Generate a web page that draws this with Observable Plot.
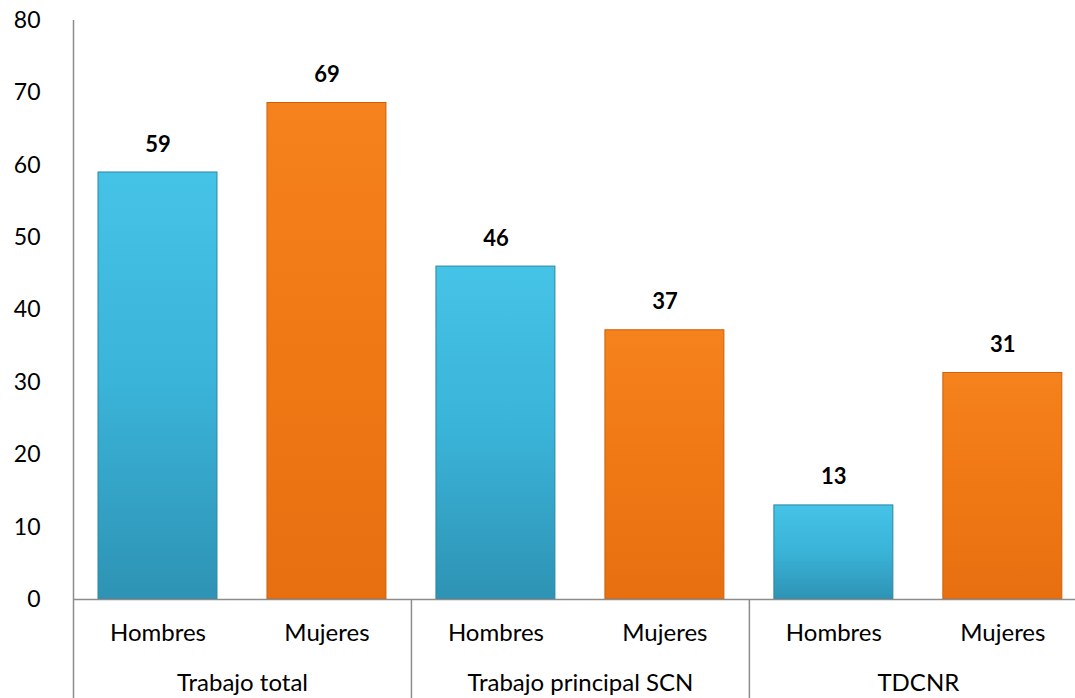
<!DOCTYPE html>
<html>
<head>
<meta charset="utf-8">
<script src="https://cdn.jsdelivr.net/npm/d3@7"></script>
<script src="https://cdn.jsdelivr.net/npm/@observablehq/plot@0.6"></script>
<style>
  html, body { margin: 0; padding: 0; background: #fff; }
  #chart { width: 1075px; height: 698px; overflow: hidden; }
  svg { font-family: Lato, "Open Sans", sans-serif; }
</style>
</head>
<body>
<div id="chart"></div>
<script>
const groups = ["Trabajo total", "Trabajo principal SCN", "TDCNR"];
const sexes = ["Hombres", "Mujeres"];
const hombres = [59, 46, 13];
const mujeres = [68.6, 37.2, 31.3];
const yTicks = [0, 10, 20, 30, 40, 50, 60, 70, 80];

const rows = [];
groups.forEach((g, gi) => {
  rows.push({group: g, sex: sexes[0], value: hombres[gi], i: gi * 2});
  rows.push({group: g, sex: sexes[1], value: mujeres[gi], i: gi * 2 + 1});
});
const groupRows = groups.map((g, gi) => ({group: g, c: gi * 2 + 1}));
const separators = [0, 2, 4, 6];

const fills = {Hombres: "url(#gradH)", Mujeres: "url(#gradM)"};
const strokes = {Hombres: "#2a86a4", Mujeres: "#c9620c"};

const plot = Plot.plot({
  width: 1075,
  height: 698,
  marginLeft: 73,
  marginRight: 0,
  marginTop: 20,
  marginBottom: 99,
  x: {type: "linear", domain: [0, 5.93], axis: null},
  y: {domain: [0, 80], axis: null},
  marks: [
    Plot.axisY({ticks: yTicks, tickSize: 0, tickPadding: 33, fontSize: 23, fill: "#000", label: null, tickFormat: d3.format("d")}),
    Plot.rectY(rows, {
      x1: d => d.i, x2: d => d.i + 1, y: "value",
      insetLeft: 25, insetRight: 25,
      fill: d => fills[d.sex], stroke: d => strokes[d.sex], strokeWidth: 1,
      style: {filter: "drop-shadow(2px 1px 2px rgba(0,0,0,0.25))"}
    }),
    Plot.text(rows, {
      x: d => d.i + 0.5, y: "value", dy: -28,
      text: d => d3.format(".0f")(d.value),
      fontSize: 22, fontWeight: "bold", fill: "#000"
    }),
    Plot.ruleY([0], {x1: 0, x2: 5.93, stroke: "#8c8c8c", strokeWidth: 1.5}),
    Plot.ruleX([0], {y1: 80, y2: 0, stroke: "#8c8c8c", strokeWidth: 1.5}),
    Plot.ruleX(separators, {y1: 0, y2: -14, stroke: "#8c8c8c", strokeWidth: 1.5}),
    Plot.text(rows, {x: d => d.i + 0.5, y: 0, dy: 34, text: "sex", fontSize: 24, fill: "#000"}),
    Plot.text(groupRows, {x: "c", y: 0, dy: 84, text: "group", fontSize: 24, fill: "#000"})
  ]
});

const ns = "http://www.w3.org/2000/svg";
const defs = document.createElementNS(ns, "defs");
defs.innerHTML = `
  <linearGradient id="gradH" x1="0" y1="0" x2="0" y2="1">
    <stop offset="0" stop-color="#45c3e6"/>
    <stop offset="0.5" stop-color="#3ab3d8"/>
    <stop offset="1" stop-color="#2e93b4"/>
  </linearGradient>
  <linearGradient id="gradM" x1="0" y1="0" x2="0" y2="1">
    <stop offset="0" stop-color="#f5821c"/>
    <stop offset="0.5" stop-color="#f07814"/>
    <stop offset="1" stop-color="#e86f10"/>
  </linearGradient>`;
plot.insertBefore(defs, plot.firstChild);
document.getElementById("chart").appendChild(plot);
</script>
</body>
</html>
